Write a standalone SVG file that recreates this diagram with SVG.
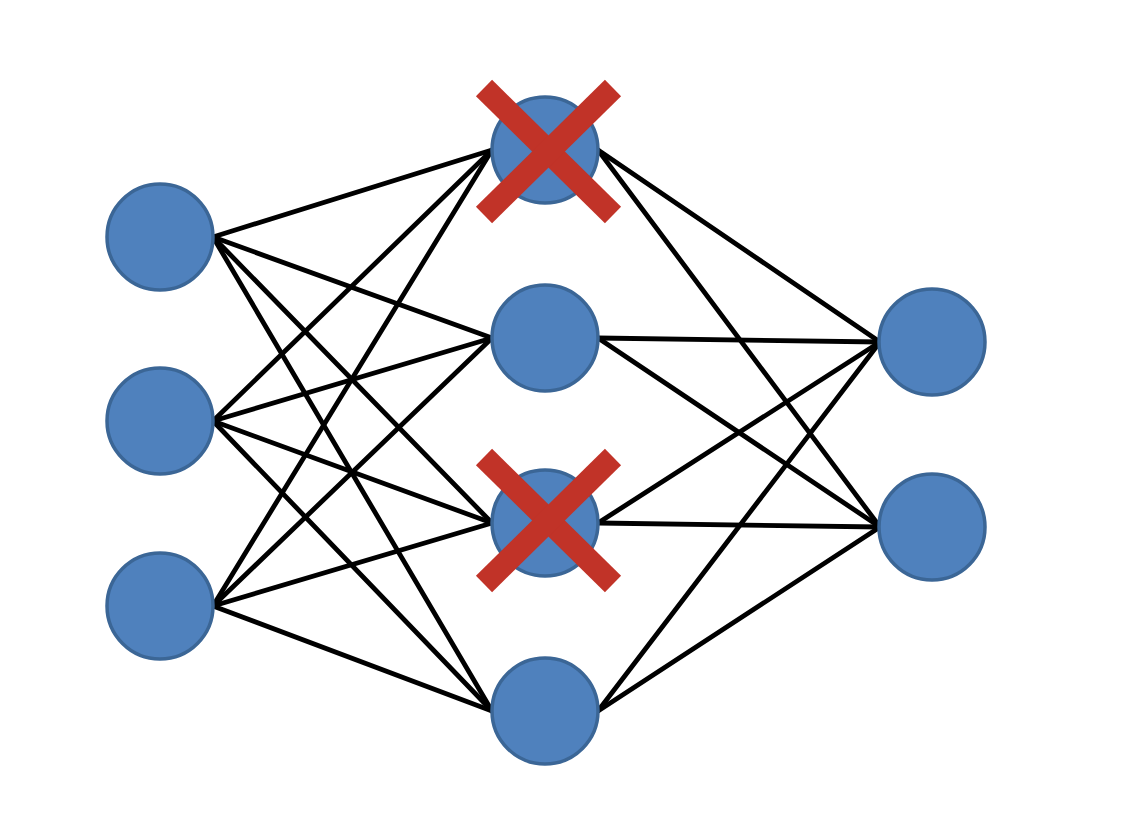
<svg xmlns="http://www.w3.org/2000/svg" width="1121" height="835" viewBox="0 0 1121 835">
<style>
.n{fill:#4F81BD;stroke:#3B6696;stroke-width:3.5}
.c line{stroke:#000;stroke-width:4.8;stroke-linecap:round}
.x line{stroke:#C13328;stroke-width:23;stroke-linecap:butt}
</style>
<rect width="1121" height="835" fill="#fff"/>
<g id="connectors" class="c">
<line x1="213" y1="237" x2="492" y2="150"/>
<line x1="213" y1="237" x2="492" y2="338"/>
<line x1="213" y1="237" x2="492" y2="523"/>
<line x1="213" y1="237" x2="492" y2="711"/>
<line x1="213" y1="421" x2="492" y2="150"/>
<line x1="213" y1="421" x2="492" y2="338"/>
<line x1="213" y1="421" x2="492" y2="523"/>
<line x1="213" y1="421" x2="492" y2="711"/>
<line x1="213" y1="606" x2="492" y2="150"/>
<line x1="213" y1="606" x2="492" y2="338"/>
<line x1="213" y1="606" x2="492" y2="523"/>
<line x1="213" y1="606" x2="492" y2="711"/>
<line x1="598" y1="150" x2="880" y2="342"/>
<line x1="598" y1="150" x2="880" y2="527"/>
<line x1="598" y1="338" x2="880" y2="342"/>
<line x1="598" y1="338" x2="880" y2="527"/>
<line x1="598" y1="523" x2="880" y2="342"/>
<line x1="598" y1="523" x2="880" y2="527"/>
<line x1="598" y1="711" x2="880" y2="342"/>
<line x1="598" y1="711" x2="880" y2="527"/>
</g>
<g id="in1"><circle class="n" cx="160" cy="237" r="53"/></g>
<g id="in2"><circle class="n" cx="160" cy="421" r="53"/></g>
<g id="in3"><circle class="n" cx="160" cy="606" r="53"/></g>
<g id="h1"><circle class="n" cx="545" cy="150" r="53"/>
<g class="x"><line x1="484" y1="88" x2="613" y2="215"/><line x1="613" y1="88" x2="484" y2="215"/></g></g>
<g id="h2"><circle class="n" cx="545" cy="338" r="53"/></g>
<g id="h3"><circle class="n" cx="545" cy="523" r="53"/>
<g class="x"><line x1="484" y1="457" x2="613" y2="584"/><line x1="613" y1="457" x2="484" y2="584"/></g></g>
<g id="h4"><circle class="n" cx="545" cy="711" r="53"/></g>
<g id="o1"><circle class="n" cx="932" cy="342" r="53"/></g>
<g id="o2"><circle class="n" cx="932" cy="527" r="53"/></g>
</svg>
